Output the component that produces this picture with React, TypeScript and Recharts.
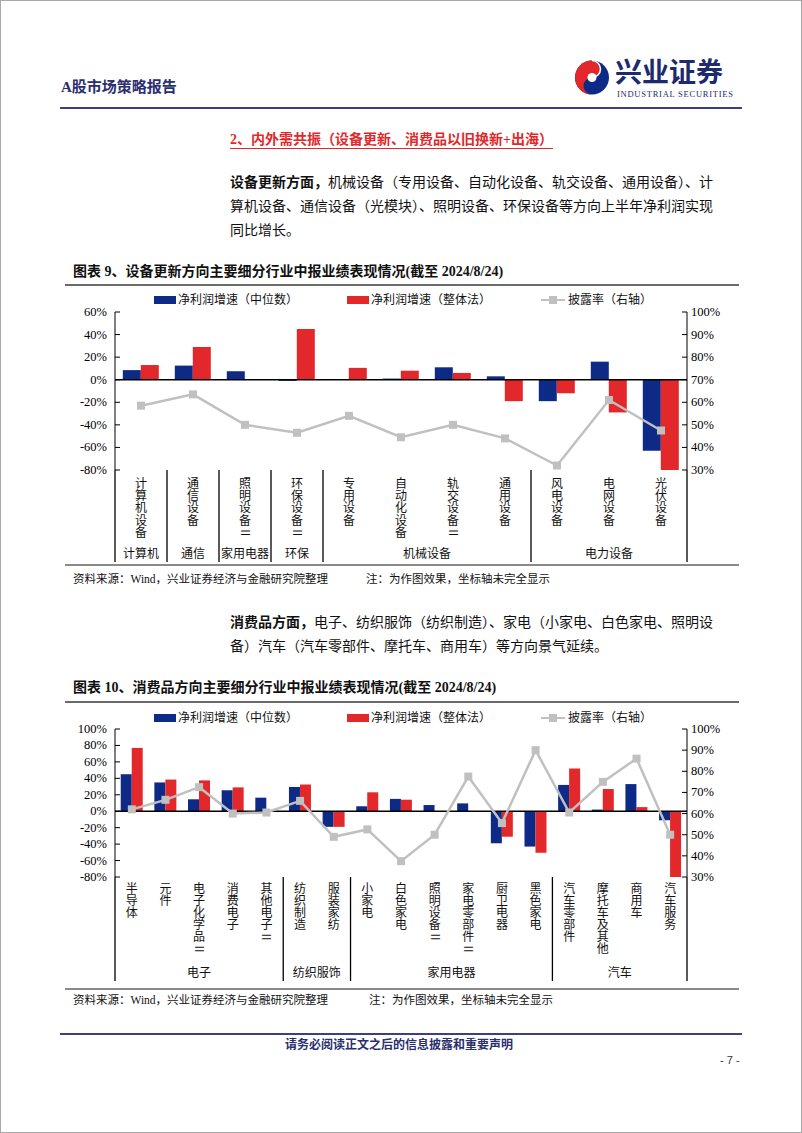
import React from "react"
import { ComposedChart, Bar, Line, XAxis, YAxis, ReferenceLine } from "recharts"

const SERIF = '"Liberation Serif", "Noto Sans CJK SC", serif'
const NAVY = "#0c2a86"
const RED = "#e2282a"
const GREY = "#c0c0c0"
const INK = "#2b2f6f"

// 图表9：设备更新方向
const cats1 = ["计算机设备", "通信设备", "照明设备Ⅱ", "环保设备Ⅱ", "专用设备", "自动化设备", "轨交设备Ⅱ", "通用设备", "风电设备", "电网设备", "光伏设备"]
const median1 = [8.5, 12.5, 7.5, -1, 0.4, 1, 11, 3, -19, 16, -63]
const overall1 = [13, 29, 0.3, 45, 10.5, 8, 6, -19, -12, -29, -80]
const disclose1 = [58.5, 63.5, 50, 46.5, 54, 44.5, 50, 44, 32, 61, 47.5]
const groupNames1 = ["计算机", "通信", "家用电器", "环保", "机械设备", "电力设备"]
const groupSizes1 = [1, 1, 1, 1, 4, 3]
const leftTicks1 = [60, 40, 20, 0, -20, -40, -60, -80]

// 图表10：消费品方向
const cats2 = ["半导体", "元件", "电子化学品Ⅱ", "消费电子", "其他电子Ⅱ", "纺织制造", "服装家纺", "小家电", "白色家电", "照明设备Ⅱ", "家电零部件Ⅱ", "厨卫电器", "黑色家电", "汽车零部件", "摩托车及其他", "商用车", "汽车服务"]
const median2 = [45, 35, 14.5, 25.5, 16.5, 29.5, -19, 6, 15, 7.5, 9.5, -39, -43, 32, 2, 33, -11]
const overall2 = [77, 38.5, 37.5, 29, 0.3, 32.5, -19, 23, 14, 0.3, 0.3, -31, -50.5, 52, 27, 5, -80]
const disclose2 = [62, 66.5, 72.5, 60, 60.5, 66, 49, 52.5, 37.5, 50, 77.5, 55.5, 90, 60.5, 75, 86, 50]
const groupNames2 = ["电子", "纺织服饰", "家用电器", "汽车"]
const groupSizes2 = [5, 2, 6, 4]
const leftTicks2 = [100, 80, 60, 40, 20, 0, -20, -40, -60, -80]

const rightTicks = [100, 90, 80, 70, 60, 50, 40, 30]

const legendNames = ["净利润增速（中位数）", "净利润增速（整体法）", "披露率（右轴）"]

// chart box: 680 wide, plot from x=114 to x=686
const CW = 680
const ML = 14
const MR = 10
const YLW = 40
const YRW = 44
const PLOT_W = CW - ML - MR - YLW - YRW

type Cfg = {
  cats: string[]
  median: number[]
  overall: number[]
  disclose: number[]
  groupNames: string[]
  groupSizes: number[]
  leftTicks: number[]
  leftDomain: [number, number]
  top: number
  height: number
  marginTop: number
  axisHeight: number
  charTop: number
  charStep: number
  groupY: number
  dividerLen: number
  gap: string
}

function Txt(props: { x: number; y: number; size: number; lh?: number; children: React.ReactNode; style?: React.CSSProperties }) {
  const lh = props.lh ?? Math.round(props.size * 1.5)
  return (
    <div style={{ position: "absolute", left: props.x, top: props.y - lh / 2, fontSize: props.size, lineHeight: lh + "px", whiteSpace: "nowrap", fontFamily: SERIF, ...props.style }}>
      {props.children}
    </div>
  )
}

function HLine({ x1, x2, y, w, color }: { x1: number; x2: number; y: number; w: number; color: string }) {
  return <div style={{ position: "absolute", left: x1, top: y - w / 2, width: x2 - x1, height: w, background: color }} />
}

function LegendRow({ y }: { y: number }) {
  return (
    <>
      <div style={{ position: "absolute", left: 153, top: y - 4, width: 22, height: 8, background: NAVY }} />
      <Txt x={177} y={y} size={12}>{legendNames[0]}</Txt>
      <div style={{ position: "absolute", left: 346, top: y - 4, width: 22, height: 8, background: RED }} />
      <Txt x={370} y={y} size={12}>{legendNames[1]}</Txt>
      <div style={{ position: "absolute", left: 540, top: y - 1.25, width: 24, height: 2.5, background: GREY }} />
      <div style={{ position: "absolute", left: 548, top: y - 4, width: 8, height: 8, background: GREY }} />
      <Txt x={567} y={y} size={12}>{legendNames[2]}</Txt>
    </>
  )
}

function Square(p: any) {
  if (p.cx == null || p.cy == null) return <g key={p.index} />
  return <rect key={p.index} x={p.cx - 4} y={p.cy - 4} width={8} height={8} fill={GREY} />
}

function LeftTick(p: any) {
  return (
    <g>
      <line x1={p.x} x2={p.x + 5} y1={p.y} y2={p.y} stroke="#000" />
      <text x={p.x - 8} y={p.y} textAnchor="end" dominantBaseline="central" fontSize={12.5} fontFamily={SERIF} fill="#000">
        {p.payload.value}%
      </text>
    </g>
  )
}

function RightTick(p: any) {
  return (
    <g>
      <line x1={p.x - 5} x2={p.x} y1={p.y} y2={p.y} stroke="#000" />
      <text x={p.x + 4} y={p.y} textAnchor="start" dominantBaseline="central" fontSize={12.5} fontFamily={SERIF} fill="#000">
        {p.payload.value}%
      </text>
    </g>
  )
}

function catTick(c: Cfg) {
  const band = PLOT_W / c.cats.length
  return (p: any) => {
    const { x, y, index } = p
    const label: string = String(p.payload.value)
    let start = 0
    let gi = -1
    for (let g = 0; g < c.groupSizes.length; g++) {
      if (index === start) gi = g
      start += c.groupSizes[g]
    }
    const last = index === c.cats.length - 1
    return (
      <g>
        {Array.from(label).map((ch, i) => {
          const cy = y + c.charTop + i * c.charStep
          return (
            <text key={i} x={x} y={cy} textAnchor="middle" dominantBaseline="central" fontSize={12} fontFamily={SERIF} fill="#111"
              transform={ch === "Ⅱ" ? `rotate(90 ${x} ${cy})` : undefined}>
              {ch}
            </text>
          )
        })}
        {gi >= 0 && <line x1={x - band / 2} x2={x - band / 2} y1={y} y2={y + c.dividerLen} stroke="#000" strokeWidth={1.3} />}
        {gi >= 0 && (
          <text x={x - band / 2 + (c.groupSizes[gi] * band) / 2} y={y + c.groupY} textAnchor="middle" dominantBaseline="central" fontSize={12} fontFamily={SERIF} fill="#111">
            {c.groupNames[gi]}
          </text>
        )}
        {last && <line x1={x + band / 2} x2={x + band / 2} y1={y} y2={y + c.dividerLen} stroke="#000" strokeWidth={1.3} />}
      </g>
    )
  }
}

function PerfChart(c: Cfg) {
  const data = c.cats.map((name, i) => ({ name, median: c.median[i], overall: c.overall[i], disclose: c.disclose[i] }))
  return (
    <div style={{ position: "absolute", left: 60, top: c.top }}>
      <ComposedChart width={CW} height={c.height} data={data} barGap={0} barCategoryGap={c.gap}
        margin={{ top: c.marginTop, right: MR, bottom: 0, left: ML }}>
        <XAxis dataKey="name" axisLine={false} tickLine={false} tickSize={0} tickMargin={0} interval={0} height={c.axisHeight} tick={catTick(c)} />
        <YAxis yAxisId="l" type="number" domain={c.leftDomain} ticks={c.leftTicks} interval={0} allowDataOverflow width={YLW}
          axisLine={{ stroke: "#000" }} tickLine={false} tickSize={0} tickMargin={0} tick={LeftTick} />
        <YAxis yAxisId="r" orientation="right" type="number" domain={[30, 100]} ticks={rightTicks} interval={0} allowDataOverflow width={YRW}
          axisLine={{ stroke: "#000" }} tickLine={false} tickSize={0} tickMargin={0} tick={RightTick} />
        <Bar yAxisId="l" dataKey="median" fill={NAVY} isAnimationActive={false} />
        <Bar yAxisId="l" dataKey="overall" fill={RED} isAnimationActive={false} />
        <ReferenceLine yAxisId="l" y={0} stroke="#000" strokeWidth={1.5} />
        <Line yAxisId="r" dataKey="disclose" stroke={GREY} strokeWidth={2.5} dot={Square} activeDot={false} isAnimationActive={false} />
      </ComposedChart>
    </div>
  )
}

function Logo() {
  return (
    <svg style={{ position: "absolute", left: 573, top: 58 }} width={36} height={37} viewBox="0 0 36 37">
      <circle cx={18} cy={18.5} r={17} fill={NAVY} />
      <path d="M18 1.5 A17 17 0 0 0 18 35.5 A8.5 8.5 0 0 1 18 18.5 A8.5 8.5 0 0 0 18 1.5 Z" fill={RED} />
      <circle cx={18} cy={18.5} r={4.5} fill="#fff" />
      <path d="M18 1.5 A8.5 8.5 0 0 1 18 18.5" stroke="#fff" strokeWidth={1.5} fill="none" />
    </svg>
  )
}

export default function App() {
  return (
    <div style={{ position: "absolute", left: 0, top: 0, width: 802, height: 1133, background: "#fff", border: "1px solid #a8a8a8", boxSizing: "border-box", color: "#111", fontFamily: SERIF }}>
      {/* header */}
      <Txt x={60} y={86} size={15} style={{ color: INK, fontWeight: 700 }}>A股市场策略报告</Txt>
      <Logo />
      <Txt x={614} y={72} size={27} lh={30} style={{ color: "#1d2a6e", fontWeight: 700 }}>兴业证券</Txt>
      <Txt x={616} y={92.5} size={8.5} lh={10} style={{ color: "#1d2a6e", letterSpacing: 0.75 }}>INDUSTRIAL SECURITIES</Txt>
      <HLine x1={59} x2={741} y={107} w={2} color="#3d407c" />

      <Txt x={229} y={138} size={14} style={{ color: RED, fontWeight: 700, textDecoration: "underline", textUnderlineOffset: 4 }}>
        2、内外需共振（设备更新、消费品以旧换新+出海）
      </Txt>

      <Txt x={229} y={181} size={14}><b>设备更新方面，</b>机械设备（专用设备、自动化设备、轨交设备、通用设备）、计</Txt>
      <Txt x={229} y={205} size={14}>算机设备、通信设备（光模块）、照明设备、环保设备等方向上半年净利润实现</Txt>
      <Txt x={229} y={229} size={14}>同比增长。</Txt>

      <Txt x={72} y={270} size={14} style={{ fontWeight: 700 }}>图表 9、设备更新方向主要细分行业中报业绩表现情况(截至 2024/8/24)</Txt>
      <HLine x1={64} x2={738} y={284} w={2} color="#6b6b6b" />
      <LegendRow y={299} />
      <PerfChart cats={cats1} median={median1} overall={overall1} disclose={disclose1} groupNames={groupNames1} groupSizes={groupSizes1}
        leftTicks={leftTicks1} leftDomain={[-80, 60]} top={290} height={280} marginTop={21} axisHeight={101}
        charTop={14} charStep={12.2} groupY={84} dividerLen={92} gap="15%" />
      <HLine x1={64} x2={738} y={564} w={1.5} color="#8a8a8a" />
      <Txt x={72} y={578} size={11.5}>资料来源：Wind，兴业证券经济与金融研究院整理</Txt>
      <Txt x={365} y={578} size={11.5}>注：为作图效果，坐标轴未完全显示</Txt>

      <Txt x={229} y={621} size={14}><b>消费品方面，</b>电子、纺织服饰（纺织制造）、家电（小家电、白色家电、照明设</Txt>
      <Txt x={229} y={645} size={14}>备）汽车（汽车零部件、摩托车、商用车）等方向景气延续。</Txt>

      <Txt x={72} y={686} size={14} style={{ fontWeight: 700 }}>图表 10、消费品方向主要细分行业中报业绩表现情况(截至 2024/8/24)</Txt>
      <HLine x1={64} x2={738} y={701} w={2} color="#6b6b6b" />
      <LegendRow y={717} />
      <PerfChart cats={cats2} median={median2} overall={overall2} disclose={disclose2} groupNames={groupNames2} groupSizes={groupSizes2}
        leftTicks={leftTicks2} leftDomain={[-80, 100]} top={718} height={275} marginTop={10} axisHeight={117}
        charTop={12} charStep={12} groupY={96} dividerLen={104} gap="17%" />
      <HLine x1={64} x2={738} y={988} w={1.5} color="#8a8a8a" />
      <Txt x={72} y={999} size={11.5}>资料来源：Wind，兴业证券经济与金融研究院整理</Txt>
      <Txt x={368} y={999} size={11.5}>注：为作图效果，坐标轴未完全显示</Txt>

      {/* footer */}
      <HLine x1={59} x2={741} y={1033} w={2} color="#3d407c" />
      <Txt x={284} y={1044} size={12} style={{ color: INK, fontWeight: 700 }}>请务必阅读正文之后的信息披露和重要声明</Txt>
      <Txt x={719} y={1059} size={11} style={{ fontFamily: '"Liberation Sans", sans-serif', color: "#333" }}>- 7 -</Txt>
    </div>
  )
}
